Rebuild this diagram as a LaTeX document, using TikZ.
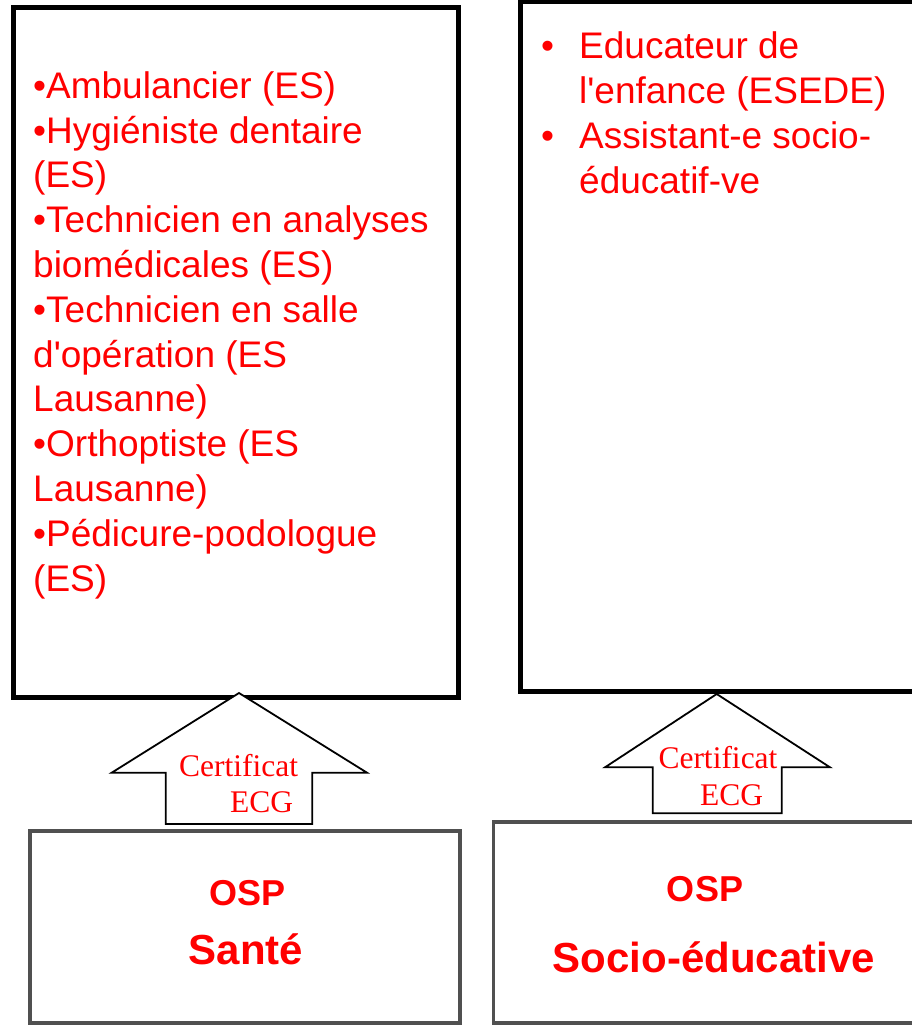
\documentclass[tikz,border=0pt]{standalone}
\usepackage{fontspec}
\setmainfont{Liberation Sans}
\newfontfamily\serifcert{Liberation Serif}
\definecolor{boxgray}{HTML}{505050}
\begin{document}
\begin{tikzpicture}[x=1pt,y=-1pt,
  topbox/.style={draw=black, line width=5pt, inner sep=0pt, outer sep=0pt},
  botbox/.style={draw=boxgray, line width=3.5pt, inner sep=0pt, outer sep=0pt},
  item/.style={text=red, font=\fontsize{37}{44}\selectfont, anchor=base west, inner sep=0pt},
  cert/.style={text=red, font=\serifcert\fontsize{31.5}{36}\selectfont, anchor=base west, inner sep=0pt},
  osp/.style={text=red, font=\bfseries\fontsize{36}{40}\selectfont, anchor=base, inner sep=0pt},
  ospbig/.style={text=red, font=\bfseries\fontsize{42}{46}\selectfont, anchor=base, inner sep=0pt},
  bigarrow/.style={draw=black, line width=1.8pt, fill=white, line join=miter}]
\useasboundingbox (0,0) rectangle (911,1025);
% boxes
\node[topbox, minimum width=445pt, minimum height=689.5pt] (topL) at (235.5,352.25) {};
\node[topbox, minimum width=396pt, minimum height=689pt] (topR) at (718,346.5) {};
\node[botbox, minimum width=430pt, minimum height=192pt] (botL) at (245,927) {};
\node[botbox, minimum width=422.5pt, minimum height=201pt] (botR) at (704.75,922.5) {};
% arrows
\draw[bigarrow] (239,693) -- (367,772.7) -- (312.3,772.7) -- (312.3,824) -- (165.7,824) -- (165.7,772.7) -- (111.7,772.7) -- cycle;
\draw[bigarrow] (716.7,694) -- (830,767.3) -- (781.7,767.3) -- (781.7,813.3) -- (652.7,813.3) -- (652.7,767.3) -- (605,767.3) -- cycle;
\node[cert] (c1) at (179,776) {Certificat};
\node[cert] (e1) at (230,812.7) {ECG};
\node[cert] (c2) at (658.3,768.3) {Certificat};
\node[cert] (e2) at (700,805) {ECG};
% left list
\foreach \t [count=\i] in {{•Ambulancier (ES)},{•Hygiéniste dentaire},{(ES)},{•Technicien en analyses},{biomédicales (ES)},{•Technicien en salle},{d\textquotesingle opération (ES},{Lausanne)},{•Orthoptiste (ES},{Lausanne)},{•Pédicure-podologue},{(ES)}}
  \node[item] (L\i) at (33,{98.3+44.8*(\i-1)}) {\t};
% right list
\node[item] (rb1) at (541,58.3) {•};
\node[item] (r1) at (579,58.3) {Educateur de};
\node[item] (r2) at (579,103.3) {l\textquotesingle enfance (ESEDE)};
\node[item] (rb2) at (541,148.3) {•};
\node[item] (r3) at (579,148.3) {Assistant-e socio-};
\node[item] (r4) at (579,193.3) {éducatif-ve};
% bottom labels
\node[osp] (o1) at (247.5,905.7) {OSP};
\node[ospbig] (s1) at (246,964) {Santé};
\node[osp] (o2) at (705,901.7) {OSP};
\node[ospbig] (s2) at (714,972.7) {Socio-éducative};
\end{tikzpicture}
\end{document}
